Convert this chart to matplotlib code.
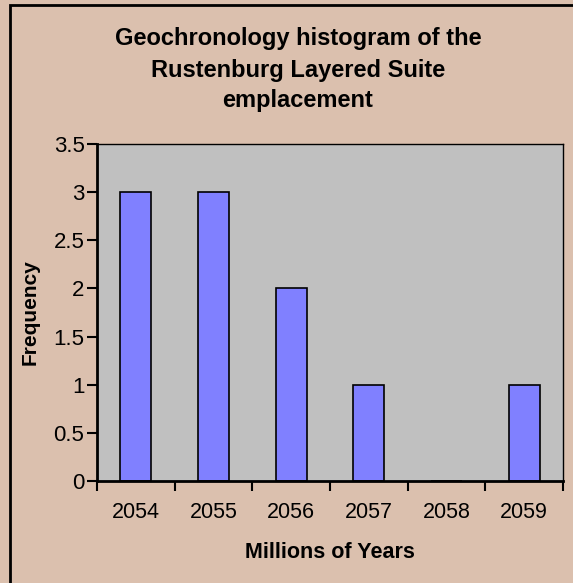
import numpy as np
import matplotlib.pyplot as plt
from matplotlib.patches import Rectangle

# data
years = ['2054', '2055', '2056', '2057', '2058', '2059']
freq = [3, 3, 2, 1, 0, 1]
y_ticks = [0, 0.5, 1, 1.5, 2, 2.5, 3, 3.5]

plt.rcParams['font.family'] = ['Liberation Sans', 'DejaVu Sans']

W, H = 573, 583
fig = plt.figure(figsize=(W / 100, H / 100), dpi=100)
fig.patch.set_facecolor('#DBC0AE')

# outer chart frame (right and bottom edges fall outside the picture)
fig.patches.append(Rectangle((10 / W, -0.1), 1.2, 1 - 5 / H + 0.1,
                             transform=fig.transFigure, fill=False,
                             edgecolor='black', linewidth=2, zorder=0))

ax = fig.add_axes([97 / W, 1 - 481 / H, (563 - 97) / W, (481 - 144) / H])
ax.set_facecolor('#C0C0C0')

x = np.arange(len(years))
ax.bar(x, freq, width=0.4, color='#8080FF', edgecolor='black', linewidth=1.2, zorder=2)

ax.set_xlim(-0.5, len(years) - 0.5)
ax.set_ylim(0, 3.5)
ax.set_yticks(y_ticks)
ax.set_yticklabels(['0', '0.5', '1', '1.5', '2', '2.5', '3', '3.5'])
ax.set_xticks(x)
ax.set_xticklabels(years)
ax.set_xticks(np.arange(-0.5, len(years)), minor=True)
ax.tick_params(axis='x', which='major', length=0, pad=15, labelsize=15.5)
ax.tick_params(axis='x', which='minor', length=7, width=1.5, direction='out')
ax.tick_params(axis='y', length=7, width=1.5, direction='out', pad=2, labelsize=16)

for s in ['top', 'right']:
    ax.spines[s].set_linewidth(1.0)
for s in ['left', 'bottom']:
    ax.spines[s].set_linewidth(2.0)

ax.set_xlabel('Millions of Years', fontsize=15.5, fontweight='bold', labelpad=14)
ax.set_ylabel('Frequency', fontsize=15, fontweight='bold', labelpad=10)

fig.text(298 / W, 1 - 38 / H, 'Geochronology histogram of the', ha='center', va='center',
         fontsize=17, fontweight='bold')
fig.text(298 / W, 1 - 71 / H, 'Rustenburg Layered Suite', ha='center', va='center',
         fontsize=17, fontweight='bold')
fig.text(298 / W, 1 - 100 / H, 'emplacement', ha='center', va='center',
         fontsize=17, fontweight='bold')

fig.savefig('out.png', dpi=100, facecolor=fig.get_facecolor())
